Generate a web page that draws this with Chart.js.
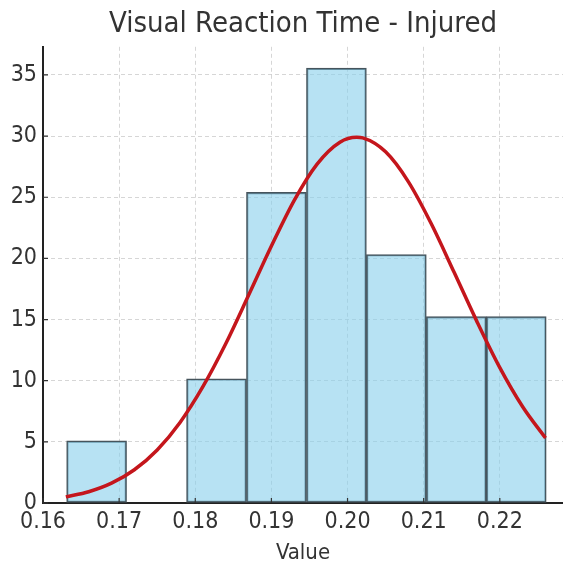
<!DOCTYPE html>
<html>
<head>
<meta charset="utf-8">
<script src="https://cdn.jsdelivr.net/npm/chart.js@4/dist/chart.umd.min.js"></script>
<style>
  html, body { margin: 0; padding: 0; background: #fff; }
  #wrap { width: 563px; height: 580px; }
</style>
</head>
<body>
<div id="wrap"><canvas id="histChart"></canvas></div>
<script>
// histogram bins (centres) and density heights
const binCenters = [0.16704, 0.17491, 0.18279, 0.19066, 0.19854, 0.20641, 0.21429, 0.22216];
const density = [5.08, 0, 10.16, 25.4, 35.56, 20.32, 15.24, 15.24];

// fitted normal curve
const curveX = [0.163, 0.166, 0.169, 0.172, 0.175, 0.178, 0.181, 0.184, 0.187, 0.190, 0.193,
  0.196, 0.199, 0.2012, 0.202, 0.205, 0.208, 0.211, 0.214, 0.217, 0.220, 0.223, 0.226];
const curveY = [0.50, 0.92, 1.62, 2.72, 4.34, 6.59, 9.51, 13.02, 16.98, 21.01, 24.75,
  27.71, 29.50, 29.9, 29.85, 28.71, 26.26, 22.83, 18.86, 14.83, 11.07, 7.87, 5.31];

const xTicks = [0.16, 0.17, 0.18, 0.19, 0.20, 0.21, 0.22];
const yTicks = [0, 5, 10, 15, 20, 25, 30, 35];

const fontFam = '"Liberation Sans Narrow", "DejaVu Sans Condensed", "DejaVu Sans", sans-serif';
const textColor = '#333333';

// short tick marks pointing into the plot, like matplotlib's "in" ticks
const innerTicks = {
  id: 'innerTicks',
  afterDatasetsDraw(chart) {
    const { ctx, chartArea, scales } = chart;
    ctx.save();
    ctx.strokeStyle = '#333';
    ctx.lineWidth = 1.2;
    ctx.beginPath();
    xTicks.forEach(v => {
      const px = scales.x.getPixelForValue(v);
      ctx.moveTo(px, chartArea.bottom);
      ctx.lineTo(px, chartArea.bottom - 5);
    });
    yTicks.forEach(v => {
      const py = scales.y.getPixelForValue(v);
      ctx.moveTo(chartArea.left, py);
      ctx.lineTo(chartArea.left + 5, py);
    });
    ctx.stroke();
    ctx.restore();
  }
};

const ctx = document.getElementById('histChart').getContext('2d');
new Chart(ctx, {
  type: 'bar',
  data: {
    datasets: [
      {
        type: 'line',
        data: curveX.map((x, i) => ({ x: x, y: curveY[i] })),
        borderColor: '#c4161c',
        borderWidth: 3.5,
        pointRadius: 0,
        cubicInterpolationMode: 'monotone',
        order: 0
      },
      {
        type: 'bar',
        data: binCenters.map((x, i) => ({ x: x, y: density[i] })),
        backgroundColor: 'rgba(135, 206, 235, 0.6)',
        borderColor: '#46545c',
        borderWidth: 1.5,
        borderSkipped: false,
        barPercentage: 1,
        categoryPercentage: 1,
        order: 1
      }
    ]
  },
  options: {
    responsive: true,
    maintainAspectRatio: false,
    animation: false,
    layout: { padding: { left: 0, right: 0, top: 0, bottom: 14 } },
    plugins: {
      legend: { display: false },
      tooltip: { enabled: false },
      title: {
        display: true,
        fullSize: false,
        text: 'Visual Reaction Time - Injured',
        color: textColor,
        font: { family: fontFam, size: 29, weight: 'normal' },
        padding: { top: 7, bottom: 5 }
      }
    },
    scales: {
      x: {
        type: 'linear',
        min: 0.16,
        max: 0.2283,
        offset: false,
        afterBuildTicks: s => { s.ticks = xTicks.map(v => ({ value: v })); },
        afterFit: s => { s.height = 63; },
        ticks: {
          color: textColor,
          font: { family: fontFam, size: 23 },
          padding: 5,
          maxRotation: 0,
          callback: v => v.toFixed(2)
        },
        grid: { offset: false, color: 'rgba(0,0,0,0.16)', lineWidth: 1, drawTicks: false },
        border: { display: true, color: '#222', width: 2, dash: [4, 3] },
        title: {
          display: true,
          text: 'Value',
          color: textColor,
          font: { family: fontFam, size: 22 },
          padding: { top: 2, bottom: 0 }
        }
      },
      y: {
        min: 0,
        max: 37.3,
        afterBuildTicks: s => { s.ticks = yTicks.map(v => ({ value: v })); },
        afterFit: s => { s.width = 43; },
        ticks: {
          color: textColor,
          font: { family: fontFam, size: 23 },
          padding: 6
        },
        grid: { color: 'rgba(0,0,0,0.16)', lineWidth: 1, drawTicks: false },
        border: { display: true, color: '#222', width: 2, dash: [4, 3] }
      }
    }
  },
  plugins: [innerTicks]
});
</script>
</body>
</html>
